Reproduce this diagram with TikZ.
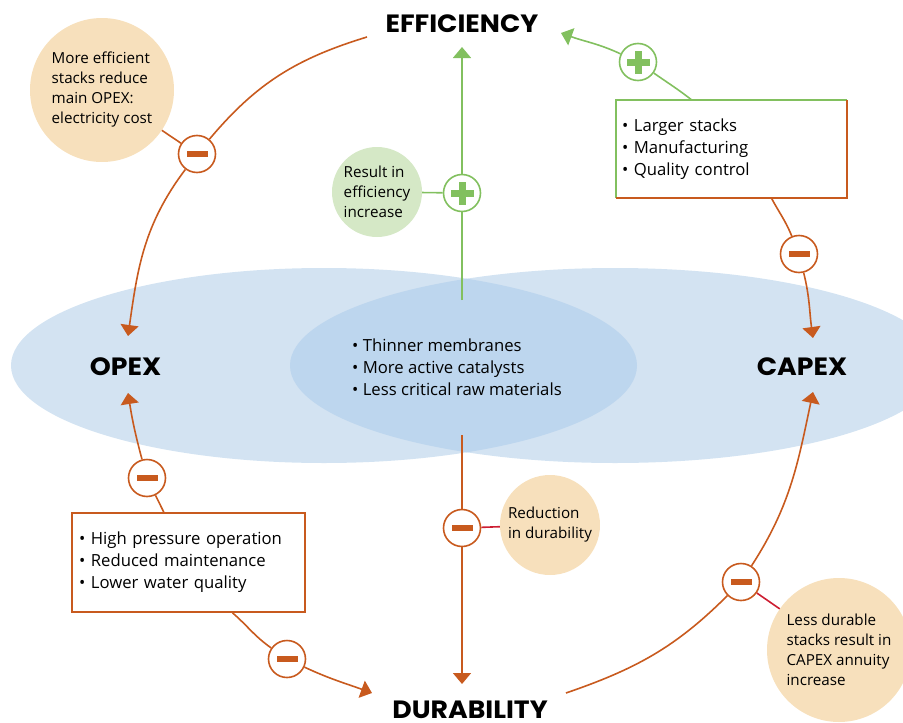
\documentclass[tikz,border=0pt]{standalone}
\usepackage{fontspec}
\setmainfont{Open Sans}
\newfontfamily\headfont{Poppins}[FakeStretch=1.07]
\usetikzlibrary{arrows.meta}
\definecolor{orng}{RGB}{200,90,30}
\definecolor{grn}{RGB}{130,192,95}
\definecolor{peach}{RGB}{247,224,188}
\definecolor{mint}{RGB}{213,232,198}
\definecolor{vennA}{RGB}{211,227,242}
\definecolor{vennB}{RGB}{189,214,238}
\definecolor{redln}{RGB}{205,30,50}

\begin{document}
\begin{tikzpicture}[x=1pt, y=-1pt,
  conn/.style={line width=1.6pt},
  tip/.style={-{Triangle[width=18pt,length=11pt]}},
  sign/.style={circle, fill=white, line width=1.6pt, minimum size=37pt, inner sep=0pt},
  minus/.style={sign, draw=orng, path picture={\fill[orng] ([shift={(-10.5pt,-3pt)}]path picture bounding box.center) rectangle ([shift={(10.5pt,3pt)}]path picture bounding box.center);}},
  plus/.style={sign, draw=grn, path picture={\fill[grn] ([shift={(-11.5pt,-3.5pt)}]path picture bounding box.center) rectangle ([shift={(11.5pt,3.5pt)}]path picture bounding box.center);
    \fill[grn] ([shift={(-3.5pt,-11.5pt)}]path picture bounding box.center) rectangle ([shift={(3.5pt,11.5pt)}]path picture bounding box.center);}},
  head/.style={anchor=base, inner sep=0pt, font=\headfont\bfseries\fontsize{25}{25}\selectfont},
  note/.style={circle, fill=peach, inner sep=0pt, align=left, font=\fontsize{15.2}{20}\selectfont},
  box/.style={rectangle, align=left, inner ysep=0pt, font=\fontsize{16.7}{22}\selectfont}]
\useasboundingbox (0,0) rectangle (903,723);
\clip (0,0) rectangle (903,723);

\fill[vennA] (324,365.5) ellipse [x radius=313, y radius=97.5];
\fill[vennA] (615,365.5) ellipse [x radius=325, y radius=97.5];
\begin{scope}
\clip (324,365.5) ellipse [x radius=313, y radius=97.5];
\fill[vennB] (615,365.5) ellipse [x radius=325, y radius=97.5];
\end{scope}

\node[head] (eff) at (462,32) {EFFICIENCY};
\node[head] (opex) at (125.5,375) {OPEX};
\node[head] (capex) at (802,375) {CAPEX};
\node[head] (dur) at (470,718) {DURABILITY};
\node[box, anchor=west, inner sep=0pt] (ctr) at (352,367) {• Thinner membranes\\• More active catalysts\\• Less critical raw materials};

\coordinate (effL) at (367,37);
\coordinate (effR) at (561,33);
\coordinate (effB) at (462,47);
\coordinate (opexT) at (128,336);
\coordinate (opexB) at (128,393);
\coordinate (capexT) at (813,338);
\coordinate (capexB) at (813,392);
\coordinate (durL) at (372,693);
\coordinate (durR) at (566,693);
\coordinate (durT) at (462,684);
\coordinate (venT) at (462,300);
\coordinate (venB) at (462,435);

\node[box, minimum width=233pt, minimum height=99pt, text width=219pt, inner xsep=7pt, draw=orng, line width=1.6pt] (box1) at (188.5,562.5) {• High pressure operation\\• Reduced maintenance\\• Lower water quality};
\node[box, minimum width=231pt, minimum height=98pt, text width=219pt, inner xsep=6pt] (box2) at (731.5,149) {• Larger stacks\\• Manufacturing\\• Quality control};
\draw[grn, line width=1.6pt] (box2.south west) |- (box2.north east);
\draw[orng, line width=1.6pt] (box2.north east) |- (box2.south west);

\node[note, minimum size=144pt] (n1) at (102,90) {More efficient\\stacks reduce\\main OPEX:\\electricity cost};
\node[note, fill=mint, minimum size=90pt] (n2) at (377,192) {Result in\\efficiency\\increase};
\node[note, minimum size=100pt] (n3) at (550,525) {Reduction\\in durability};
\node[note, minimum size=144pt] (n4) at (839,650) {Less durable\\stacks result in\\CAPEX annuity\\increase};

\node[minus] (m1) at (197,154) {};
\node[plus] (p1) at (462,193) {};
\node[plus] (p2) at (638,62) {};
\node[minus] (m2) at (799,254) {};
\node[minus] (m3) at (462,528) {};
\node[minus] (m4) at (741,582) {};
\node[minus] (m5) at (147,478) {};
\node[minus] (m6) at (287,659) {};

\draw[conn, orng] (effL) to[out=197, in=50] (m1);
\draw[conn, orng, tip] (m1) to[out=233, in=82] (opexT);
\draw[conn, orng] (m5) -- (box1);
\draw[conn, orng, tip] (m5) to[out=105, in=279] (opexB);
\draw[conn, orng] ([xshift=44pt]box1.south) to[out=-41, in=145] (m6);
\draw[conn, orng, tip] (m6) to[out=-25, in=160] (durL);
\draw[conn, orng] (durR) to[out=19, in=225] (m4);
\draw[conn, orng, tip] (m4) to[out=57, in=258] (capexB);
\draw[conn, orng] ([xshift=40pt]box2.south) to[out=-62, in=112] (m2);
\draw[conn, orng, tip] (m2) to[out=-76, in=98] (capexT);
\draw[conn, grn] ([xshift=-40pt]box2.north) to[out=142, in=-35] (p2);
\draw[conn, grn, tip] (p2) to[out=155, in=-20] (effR);
\draw[conn, grn] (venT) -- (p1);
\draw[conn, grn, tip] (p1) -- (effB);
\draw[conn, orng] (venB) -- (m3);
\draw[conn, orng, tip] (m3) -- (durT);
\draw[conn, orng] (n1) -- (m1);
\draw[conn, grn] (n2) -- (p1);
\draw[conn, redln] (m3) -- (n3);
\draw[conn, redln] (m4) -- (n4);
\end{tikzpicture}
\end{document}
